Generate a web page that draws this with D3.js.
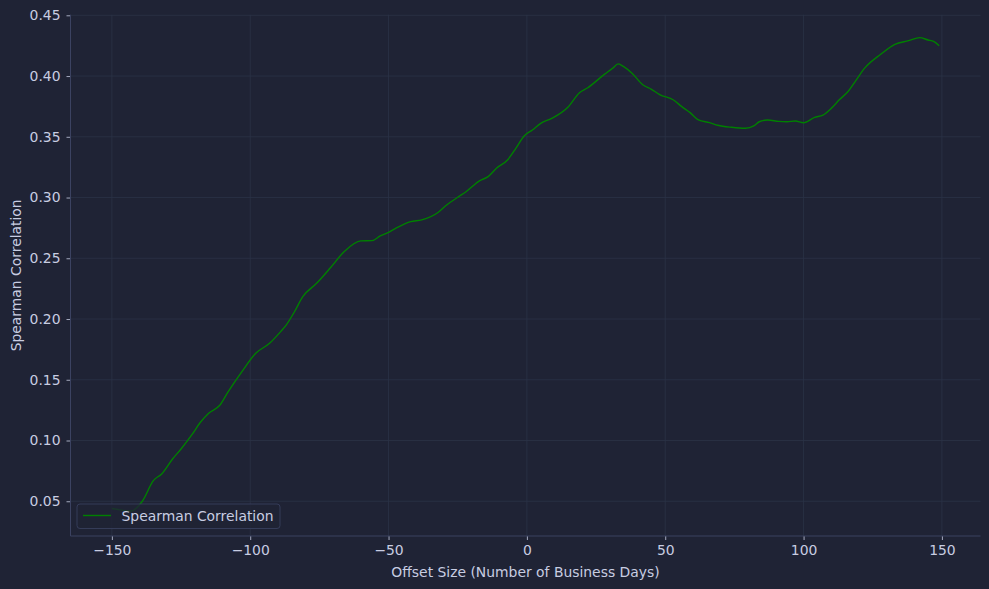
<!DOCTYPE html>
<html>
<head>
<meta charset="utf-8">
<script src="https://cdn.jsdelivr.net/npm/d3@7"></script>
<style>
  html, body { margin: 0; padding: 0; background: #1f2335; }
  svg { display: block; }
</style>
</head>
<body>
<svg id="chart" width="989" height="589"></svg>
<script>
// ---- data ----
const offsets = [-150, -143, -139, -135, -132, -128, -125, -121, -118, -115, -111, -108, -103, -98, -93, -89, -87, -84, -81, -76, -71, -66, -60, -56, -53, -50, -47, -42, -38, -32, -29, -25, -22, -17, -14, -11, -7, -4, -1, 2, 5, 9, 15, 19, 22, 28, 31, 33, 35, 38, 42, 45, 48, 53, 56, 59, 62, 66, 69, 74, 79, 82, 84, 87, 91, 94, 97, 100, 104, 107, 110, 113, 116, 119, 122, 128, 133, 138, 142, 145, 147, 149];
const correlations = [0.044, 0.042, 0.050, 0.067, 0.0725, 0.085, 0.093, 0.105, 0.115, 0.1225, 0.129, 0.140, 0.1567, 0.1718, 0.180, 0.1896, 0.195, 0.206, 0.2184, 0.2294, 0.2422, 0.2556, 0.2643, 0.2645, 0.2684, 0.2714, 0.2752, 0.2802, 0.2816, 0.2879, 0.2939, 0.3002, 0.3048, 0.3139, 0.3172, 0.3241, 0.3309, 0.3405, 0.3507, 0.3556, 0.3611, 0.3652, 0.3748, 0.3863, 0.3904, 0.4014, 0.4064, 0.4100, 0.4077, 0.4023, 0.3926, 0.3891, 0.3848, 0.3803, 0.3748, 0.3699, 0.3639, 0.3617, 0.3595, 0.3578, 0.3570, 0.3589, 0.3624, 0.3638, 0.3627, 0.3624, 0.3630, 0.3616, 0.3660, 0.3679, 0.3734, 0.3806, 0.3871, 0.3967, 0.4063, 0.4181, 0.4261, 0.4291, 0.4316, 0.4297, 0.4286, 0.4250];
const xTicks = [-150, -100, -50, 0, 50, 100, 150];
const yTicks = [0.05, 0.10, 0.15, 0.20, 0.25, 0.30, 0.35, 0.40, 0.45];
const seriesName = "Spearman Correlation";
const xLabel = "Offset Size (Number of Business Days)";
const yLabel = "Spearman Correlation";

// ---- style ----
const bg = "#1f2335";
const gridColor = "#2b3246";
const spineColor = "#3b4261";
const textColor = "#c8cde2";
const lineColor = "#008000";
const font = "DejaVu Sans, sans-serif";
const fs = 13.9;

const margin = {left: 70.5, right: 8.5, top: 14.7, bottom: 53};
const W = 989, H = 589;
const svg = d3.select("#chart");
svg.append("rect").attr("width", W).attr("height", H).attr("fill", bg);

const x = d3.scaleLinear().domain([-164.95, 163.95]).range([margin.left, W - margin.right]);
const y = d3.scaleLinear().domain([0.0214, 0.4505]).range([H - margin.bottom, margin.top]);

const g = svg.append("g");

// grid
g.append("g").selectAll("line").data(xTicks).join("line")
  .attr("x1", d => x(d)).attr("x2", d => x(d))
  .attr("y1", margin.top).attr("y2", H - margin.bottom)
  .attr("stroke", gridColor).attr("stroke-width", 0.8);
g.append("g").selectAll("line").data(yTicks).join("line")
  .attr("x1", margin.left).attr("x2", W - margin.right)
  .attr("y1", d => y(d)).attr("y2", d => y(d))
  .attr("stroke", gridColor).attr("stroke-width", 0.8);

// axes
const fmtX = d => (d < 0 ? "\u2212" + Math.abs(d) : String(d));
const xAxis = d3.axisBottom(x).tickValues(xTicks).tickFormat(fmtX).tickSize(4).tickPadding(5);
const yAxis = d3.axisLeft(y).tickValues(yTicks).tickFormat(d3.format(".2f")).tickSize(4).tickPadding(6);

const gx = svg.append("g").attr("transform", `translate(0,${H - margin.bottom})`).call(xAxis);
const gy = svg.append("g").attr("transform", `translate(${margin.left},0)`).call(yAxis);
[gx, gy].forEach(a => {
  a.select(".domain").remove();
  a.selectAll(".tick line").attr("stroke", textColor).attr("stroke-width", 0.8);
  a.selectAll(".tick text").attr("fill", textColor).attr("font-family", font).attr("font-size", fs);
});

// spines (left & bottom)
svg.append("line").attr("x1", margin.left).attr("x2", margin.left)
  .attr("y1", margin.top).attr("y2", H - margin.bottom)
  .attr("stroke", spineColor).attr("stroke-width", 1);
svg.append("line").attr("x1", margin.left).attr("x2", W - margin.right)
  .attr("y1", H - margin.bottom).attr("y2", H - margin.bottom)
  .attr("stroke", spineColor).attr("stroke-width", 1);

// line
const data = offsets.map((o, i) => ({x: o, y: correlations[i]}));
const line = d3.line().x(d => x(d.x)).y(d => y(d.y)).curve(d3.curveMonotoneX);
svg.append("path").datum(data).attr("d", line)
  .attr("fill", "none").attr("stroke", lineColor).attr("stroke-width", 1.4);

// labels
svg.append("text").attr("x", (margin.left + W - margin.right) / 2).attr("y", 577)
  .attr("text-anchor", "middle").attr("fill", textColor)
  .attr("font-family", font).attr("font-size", fs).text(xLabel);
svg.append("text").attr("transform", `translate(21,${(margin.top + H - margin.bottom) / 2}) rotate(-90)`)
  .attr("text-anchor", "middle").attr("fill", textColor)
  .attr("font-family", font).attr("font-size", fs).text(yLabel);

// legend
const lg = svg.append("g");
lg.append("rect").attr("x", 77).attr("y", 504).attr("width", 203).attr("height", 24.5)
  .attr("rx", 3).attr("fill", bg).attr("fill-opacity", 0.8)
  .attr("stroke", spineColor).attr("stroke-opacity", 0.8).attr("stroke-width", 1);
lg.append("line").attr("x1", 83).attr("x2", 111).attr("y1", 515.5).attr("y2", 515.5)
  .attr("stroke", lineColor).attr("stroke-width", 1.4);
lg.append("text").attr("x", 121.5).attr("y", 520.8).attr("fill", textColor)
  .attr("font-family", font).attr("font-size", fs).text(seriesName);
</script>
</body>
</html>
